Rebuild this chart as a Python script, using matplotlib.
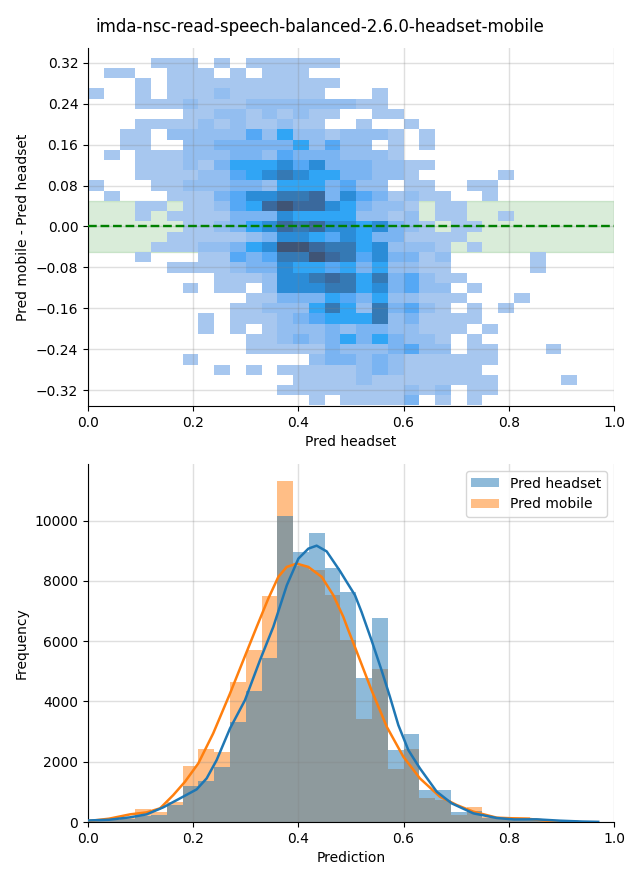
"""
Recria a figura imda-nsc-read-speech-balanced-2.6.0-headset-mobile:
heatmap da diferenca mobile - headset e histograma + KDE das predicoes.
"""

import matplotlib

matplotlib.use("Agg")
import matplotlib.pyplot as plt
import numpy as np
from matplotlib.colors import LinearSegmentedColormap

TITULO = "imda-nsc-read-speech-balanced-2.6.0-headset-mobile"
LARGURA_BIN = 0.03
ALTURA_BIN = 0.02
N_COLUNAS = 33

# intensidade das celulas do heatmap, linha a linha de cima para baixo.
linhas_heatmap = [
    {4: 1, 5: 1, 6: 1, 8: 1, 10: 1, 11: 1, 12: 1, 13: 1, 14: 1, 15: 1},
    {1: 1, 2: 1, 5: 1, 6: 1, 7: 1, 9: 1, 11: 1, 12: 1, 13: 1},
    {3: 1, 5: 1, 6: 1, 7: 1, 8: 1, 9: 1, 10: 1, 11: 1, 12: 1, 13: 1, 14: 1, 15: 1},
    {0: 1, 3: 1, 5: 1, 6: 1, 7: 1, 8: 2, 9: 1, 10: 1, 11: 1, 12: 1, 13: 1, 14: 1, 18: 1},
    {3: 1, 4: 1, 5: 1, 6: 2, 7: 1, 8: 1, 9: 1, 10: 2, 11: 2, 12: 2, 13: 2, 14: 2, 15: 2, 16: 2, 17: 1, 18: 1},
    {6: 1, 7: 1, 8: 2, 9: 2, 10: 1, 11: 2, 12: 1, 13: 2, 14: 1, 15: 1, 18: 1, 19: 1},
    {3: 1, 4: 1, 5: 1, 6: 1, 7: 2, 8: 1, 9: 2, 10: 1, 11: 1, 12: 2, 13: 1, 14: 1, 17: 1, 20: 1},
    {2: 1, 3: 1, 5: 2, 6: 2, 7: 2, 8: 2, 9: 2, 10: 4, 11: 2, 12: 5, 13: 2, 14: 2, 15: 1, 16: 2, 17: 2, 18: 2, 19: 1, 21: 1},
    {2: 1, 3: 1, 6: 2, 7: 2, 8: 3, 9: 3, 10: 3, 11: 3, 12: 3, 13: 5, 14: 2, 15: 4, 16: 2, 17: 2, 19: 1, 21: 1},
    {1: 1, 3: 1, 4: 1, 5: 1, 6: 2, 7: 2, 8: 2, 9: 3, 10: 3, 11: 2, 12: 4, 13: 3, 14: 3, 15: 3, 16: 2, 17: 2, 18: 2, 19: 1},
    {3: 1, 4: 1, 5: 1, 6: 2, 7: 1, 8: 3, 9: 5, 10: 5, 11: 5, 12: 6, 13: 4, 14: 6, 15: 3, 16: 3, 17: 3, 18: 2, 19: 2, 20: 1, 21: 1},
    {3: 1, 4: 1, 5: 1, 6: 1, 7: 2, 8: 2, 9: 4, 10: 5, 11: 6, 12: 7, 13: 6, 14: 5, 15: 5, 16: 3, 17: 3, 18: 2, 19: 2, 20: 1, 26: 1},
    {0: 1, 4: 1, 5: 1, 6: 2, 7: 2, 8: 2, 9: 3, 10: 3, 11: 2, 12: 5, 13: 5, 14: 5, 15: 3, 16: 4, 17: 2, 18: 2, 20: 1, 21: 1, 24: 1, 25: 1},
    {1: 1, 5: 1, 6: 1, 7: 1, 8: 3, 9: 4, 10: 6, 11: 6, 12: 7, 13: 7, 14: 8, 15: 3, 16: 6, 17: 4, 18: 3, 19: 1, 20: 2, 21: 1, 22: 1, 25: 1},
    {3: 1, 4: 1, 6: 1, 7: 1, 8: 2, 9: 4, 10: 5, 11: 8, 12: 9, 13: 8, 14: 8, 15: 6, 16: 5, 17: 3, 18: 2, 19: 2, 20: 1, 22: 1, 23: 1},
    {3: 1, 5: 1, 6: 1, 7: 1, 8: 1, 9: 3, 10: 3, 11: 3, 12: 6, 13: 5, 14: 5, 15: 5, 16: 5, 17: 2, 18: 2, 19: 1, 20: 2, 22: 1, 23: 1, 26: 1},
    {6: 1, 7: 1, 8: 2, 9: 3, 10: 5, 11: 6, 12: 8, 13: 7, 14: 8, 15: 6, 16: 6, 17: 5, 18: 6, 19: 3, 20: 2, 21: 1, 23: 1, 24: 1},
    {5: 1, 6: 1, 7: 1, 8: 1, 9: 1, 10: 2, 11: 3, 12: 6, 13: 6, 14: 5, 15: 4, 16: 6, 17: 5, 18: 3, 19: 3, 20: 1, 21: 1, 22: 1, 23: 1},
    {4: 1, 5: 1, 6: 1, 7: 2, 8: 2, 9: 3, 10: 5, 11: 6, 12: 9, 13: 9, 14: 8, 15: 7, 16: 7, 17: 5, 18: 6, 19: 2, 20: 2, 21: 2, 22: 1, 24: 1},
    {3: 1, 7: 1, 8: 1, 9: 4, 10: 3, 11: 4, 12: 7, 13: 7, 14: 9, 15: 8, 16: 7, 17: 4, 18: 6, 19: 3, 20: 3, 21: 1, 22: 2, 28: 1},
    {5: 1, 6: 1, 7: 1, 8: 1, 9: 2, 10: 3, 11: 3, 12: 6, 13: 5, 14: 5, 15: 4, 16: 5, 17: 3, 18: 5, 19: 2, 20: 2, 21: 1, 22: 1, 28: 1},
    {8: 1, 9: 1, 10: 1, 11: 2, 12: 6, 13: 6, 14: 7, 15: 8, 16: 7, 17: 5, 18: 7, 19: 3, 20: 4, 21: 2, 22: 1, 23: 1},
    {6: 1, 8: 1, 9: 1, 11: 2, 12: 6, 13: 6, 14: 6, 15: 7, 16: 7, 17: 5, 18: 6, 19: 3, 20: 4, 21: 2, 22: 2, 24: 1},
    {10: 1, 11: 1, 12: 3, 13: 3, 14: 3, 15: 5, 16: 4, 17: 3, 18: 5, 19: 2, 20: 2, 21: 1, 22: 1, 23: 1, 27: 1},
    {9: 1, 10: 1, 11: 2, 12: 2, 13: 2, 14: 5, 15: 7, 16: 5, 17: 2, 18: 7, 19: 3, 20: 4, 21: 2, 22: 1, 24: 1, 26: 1},
    {7: 1, 9: 1, 10: 1, 11: 1, 12: 2, 13: 3, 14: 4, 15: 5, 16: 5, 17: 5, 18: 7, 19: 2, 20: 3, 21: 1, 22: 1, 23: 1, 24: 1},
    {7: 1, 9: 1, 11: 1, 12: 2, 13: 2, 14: 2, 15: 3, 16: 2, 17: 3, 18: 3, 19: 2, 20: 2, 21: 1, 22: 1, 23: 1, 25: 1},
    {10: 1, 11: 1, 12: 2, 13: 3, 14: 2, 15: 3, 16: 5, 17: 3, 18: 5, 19: 3, 20: 2, 21: 2, 22: 1, 24: 1},
    {10: 1, 11: 1, 12: 1, 13: 1, 14: 1, 15: 3, 16: 2, 17: 2, 18: 2, 19: 3, 20: 4, 21: 2, 22: 2, 24: 1, 25: 1, 29: 1},
    {6: 1, 14: 2, 15: 3, 16: 3, 17: 2, 18: 3, 19: 2, 20: 1, 21: 1, 22: 1, 23: 1, 24: 1, 25: 1},
    {8: 1, 10: 1, 12: 1, 13: 1, 14: 1, 15: 1, 16: 1, 17: 2, 18: 3, 19: 2, 20: 1, 21: 1, 22: 1, 23: 1, 24: 1},
    {13: 1, 14: 1, 15: 1, 16: 1, 17: 2, 18: 1, 19: 1, 20: 1, 21: 1, 22: 1, 23: 1, 24: 1, 25: 1, 30: 1},
    {12: 1, 13: 1, 14: 1, 15: 1, 16: 1, 17: 1, 18: 1, 19: 1, 20: 2, 21: 1, 22: 2, 24: 1, 25: 1},
    {14: 1, 16: 1, 17: 1, 18: 1, 19: 1, 20: 3, 22: 1, 24: 1},
]

# histogramas (bins de 0.03 a partir de 0)
freq_headset = [
    40, 60, 100, 200, 220, 560, 1190, 1360, 1820, 3315, 4340, 5440, 10140, 8950, 9580, 8420, 7620,
    4770, 6760, 2390, 2920, 1060, 1060, 330, 360, 120, 110, 90, 100, 50, 30, 15, 5,
]
freq_mobile = [
    50, 100, 130, 420, 330, 650, 1860, 2420, 2320, 4640, 5700, 7490, 11300, 8500, 8350, 7520, 6030,
    3410, 5070, 1760, 2420, 800, 730, 220, 490, 170, 155, 150, 80, 40, 20, 10, 0,
]

# curvas KDE
kde_x_headset = [
    0.0, 0.04, 0.08, 0.1115, 0.143, 0.175, 0.2066, 0.2256, 0.2446, 0.27, 0.2985, 0.327, 0.3523, 0.378,
    0.40, 0.419, 0.4347, 0.4537, 0.479, 0.4918, 0.5076, 0.52, 0.539, 0.558, 0.574, 0.59, 0.609, 0.631,
    0.663, 0.6914, 0.7326, 0.777, 0.81, 0.853, 0.897, 0.94, 0.97,
]
kde_y_headset = [
    50, 75, 155, 254, 486, 785, 1083, 1448, 2055, 3105, 4045, 5370, 6475, 7857,
    8740, 9072, 9170, 8980, 8330, 7967, 7525, 6973, 6033, 5040, 4155, 3216, 2387, 1780,
    1005, 619, 287, 133, 85, 88, 44, 15, 5,
]
kde_x_mobile = [
    0.0, 0.04, 0.08, 0.1115, 0.137, 0.1622, 0.1844, 0.2097, 0.238, 0.27, 0.2953, 0.3207, 0.3428, 0.3618,
    0.3777, 0.3967, 0.419, 0.4443, 0.4664, 0.4854, 0.4949, 0.511, 0.539, 0.568, 0.5995, 0.631,
    0.669, 0.701, 0.7326, 0.777, 0.84, 0.88, 0.93,
]
kde_y_mobile = [
    30, 110, 254, 320, 453, 895, 1337, 1945, 2940, 4265, 5370, 6475, 7415, 8133,
    8464, 8575, 8464, 8133, 7525, 6807, 6365, 5647, 4376, 3160, 2166, 1448,
    840, 564, 343, 144, 100, 30, 3,
]

# rampa de cor do heatmap, do nivel 1 ao 9
cores_niveis = ["#a7c7ef", "#93bef0", "#7ab4f2", "#55a8f5", "#30a5f5", "#2b8cd8", "#3579b5", "#3a6a9e", "#3f5475"]


def montar_matriz():
    matriz = np.zeros((len(linhas_heatmap), N_COLUNAS))
    for i, linha in enumerate(linhas_heatmap):
        for j, nivel in linha.items():
            matriz[i, j] = nivel
    return np.ma.masked_equal(matriz[::-1], 0)


fig, (ax1, ax2) = plt.subplots(2, 1, figsize=(6.4, 8.8), dpi=100)
fig.subplots_adjust(left=88 / 640, right=614 / 640, top=1 - 48 / 880, bottom=1 - 822 / 880, hspace=58 / 358)

cmap = LinearSegmentedColormap.from_list("niveis", cores_niveis)
x_edges = np.arange(N_COLUNAS + 1) * LARGURA_BIN
y_edges = -0.35 + np.arange(len(linhas_heatmap) + 1) * ALTURA_BIN
ax1.axhspan(-0.05, 0.05, color="green", alpha=0.15, zorder=0)
ax1.pcolormesh(x_edges, y_edges, montar_matriz(), cmap=cmap, vmin=1, vmax=9, zorder=1, linewidth=0)
ax1.axhline(0, color="green", linestyle="--", linewidth=1.7, zorder=3)
ax1.set_xlim(0, 1)
ax1.set_ylim(-0.351, 0.349)
ax1.set_yticks(np.arange(-0.32, 0.33, 0.08))
ax1.set_xlabel("Pred headset")
ax1.set_ylabel("Pred mobile - Pred headset")

# seaborn desenha o ultimo hue primeiro: laranja fica embaixo do azul
ax2.bar(x_edges[:-1], freq_mobile, width=LARGURA_BIN, align="edge", color="C1", alpha=0.5, label="Pred mobile", zorder=1)
ax2.bar(x_edges[:-1], freq_headset, width=LARGURA_BIN, align="edge", color="C0", alpha=0.5, label="Pred headset", zorder=1)
ax2.plot(kde_x_mobile, kde_y_mobile, color="C1", linewidth=1.8, zorder=3)
ax2.plot(kde_x_headset, kde_y_headset, color="C0", linewidth=1.8, zorder=3)
ax2.set_xlim(0, 1)
ax2.set_ylim(0, 11880)
ax2.set_xlabel("Prediction")
ax2.set_ylabel("Frequency")
handles, labels = ax2.get_legend_handles_labels()
ax2.legend(handles[::-1], labels[::-1], loc="upper right")

for ax in (ax1, ax2):
    ax.grid(True, color="gray", alpha=0.25, linewidth=1, zorder=2)
    ax.spines["top"].set_visible(False)
    ax.spines["right"].set_visible(False)

fig.suptitle(TITULO, x=0.5, y=1 - 27 / 880, va="center", fontsize=12)
fig.savefig("out.png", dpi=100)
plt.close(fig)
